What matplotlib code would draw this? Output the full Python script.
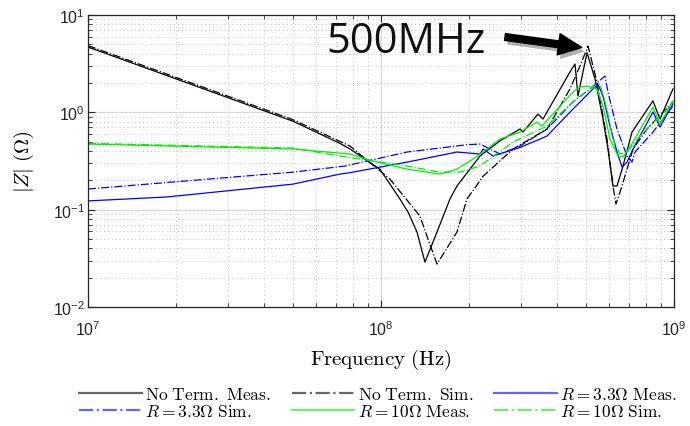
import matplotlib
matplotlib.use("Agg")
import matplotlib.pyplot as plt
import matplotlib.patheffects as pe
from matplotlib.ticker import LogLocator
import numpy as np

plt.rcParams['font.family'] = ['Liberation Sans', 'DejaVu Sans']
plt.rcParams['mathtext.fontset'] = 'cm'

# frequency in MHz, |Z| in Ohm
f_nt_meas = [10, 50.1, 72.4, 78.4, 99.2, 116, 123.7, 132.7, 141.3, 155.3, 172, 181.7, 217.7,
             254.8, 298.2, 305.2, 343.4, 357.2, 441.6, 459.4, 470.2, 504.9, 537.6, 572.4,
             595.3, 619.1, 639, 669.9, 719, 847.8, 895.8, 992]
z_nt_meas = [4.69, 0.81, 0.48, 0.42, 0.26, 0.129, 0.0945, 0.0589, 0.0289, 0.0589, 0.129, 0.175, 0.356,
             0.51, 0.674, 0.627, 0.96, 0.853, 2.6, 3.14, 1.47, 4.1, 2.2, 0.853,
             0.42, 0.175, 0.175, 0.281, 0.627, 1.31, 0.853, 1.74]

f_nt_sim = [10, 50.1, 78.4, 107.3, 135.8, 144.7, 155.3, 181.7, 196.6, 210, 222.9, 282.1, 368.7,
            441.6, 477.7, 508.8, 546, 590.6, 619.1, 633.9, 664.6, 724.6, 808.8, 992]
z_nt_sim = [4.85, 0.84, 0.45, 0.206, 0.086, 0.05, 0.0276, 0.0589, 0.129, 0.17, 0.22, 0.42, 0.674,
            1.74, 2.99, 4.8, 2.05, 0.531, 0.175, 0.114, 0.175, 0.42, 0.674, 1.28]

f_r33_meas = [10, 18.6, 50.1, 72.4, 78.4, 122.7, 181.7, 217.7, 222.9, 241.2, 298.2, 348.9, 368.7,
              452.1, 529, 550.4, 572.4, 604.7, 639, 664.6, 691.3, 724.6, 847.8, 895.8, 992]
z_r33_meas = [0.123, 0.135, 0.183, 0.232, 0.24, 0.308, 0.391, 0.373, 0.42, 0.356, 0.436, 0.531, 0.571,
              1.08, 1.74, 1.95, 1.47, 0.723, 0.391, 0.274, 0.308, 0.42, 1.01, 0.706, 1.22]

f_r33_sim = [10, 50.1, 75, 122.7, 196.6, 217.7, 254.8, 298.2, 368.7, 452.1, 516.8, 581.4, 595.3,
             639, 691.3, 719, 736.1, 847.8, 992]
z_r33_sim = [0.163, 0.243, 0.28, 0.391, 0.465, 0.472, 0.373, 0.45, 0.674, 1.28, 1.74, 2.36, 1.62,
             0.674, 0.356, 0.308, 0.391, 0.627, 1.16]

f_r10_meas = [10, 50.1, 78.4, 93.9, 122.7, 159, 181.7, 206, 230, 254.8, 298.2, 340.8, 354.4,
              452.1, 477.7, 504.9, 546, 572.4, 604.7, 644, 669.9, 724.6, 847.8, 895.8, 992]
z_r10_meas = [0.472, 0.42, 0.373, 0.316, 0.261, 0.232, 0.261, 0.331, 0.42, 0.531, 0.627, 0.795, 0.723,
              1.62, 1.82, 1.86, 1.74, 1.16, 0.531, 0.356, 0.347, 0.495, 1.13, 0.76, 1.31]

f_r10_sim = [10, 50.1, 72.4, 122.7, 159, 186, 217.7, 282.1, 368.7, 452.1, 529, 559, 590.6,
             619.1, 654.2, 691.3, 765.6, 874.9, 992]
z_r10_sim = [0.48, 0.43, 0.356, 0.281, 0.243, 0.243, 0.281, 0.495, 0.723, 1.28, 1.86, 1.95, 1.08,
             0.531, 0.373, 0.391, 0.571, 0.853, 1.22]

series = [
    (f_nt_meas, z_nt_meas, 'k', '-', r'$\mathrm{No\ Term.\ Meas.}$'),
    (f_nt_sim, z_nt_sim, 'k', '-.', r'$\mathrm{No\ Term.\ Sim.}$'),
    (f_r33_meas, z_r33_meas, '#0000ff', '-', r'$R=3.3\Omega\ \mathrm{Meas.}$'),
    (f_r33_sim, z_r33_sim, '#0000ff', '-.', r'$R=3.3\Omega\ \mathrm{Sim.}$'),
    (f_r10_meas, z_r10_meas, '#00ee00', '-', r'$R=10\Omega\ \mathrm{Meas.}$'),
    (f_r10_sim, z_r10_sim, '#00ee00', '-.', r'$R=10\Omega\ \mathrm{Sim.}$'),
]

fig = plt.figure(figsize=(6.9, 4.27), dpi=100)
ax = fig.add_axes([0.1275, 0.2787, 0.8493, 0.6838])

lines = []
for f, z, c, ls, lab in series:
    l, = ax.plot(np.array(f) * 1e6, z, color=c, linestyle=ls, lw=0.9, label=lab)
    lines.append(l)

ax.set_xscale('log')
ax.set_yscale('log')
ax.set_xlim(1e7, 1e9)
ax.set_ylim(1e-2, 1e1)
ax.xaxis.set_major_locator(LogLocator(base=10, numticks=5))
ax.xaxis.set_minor_locator(LogLocator(base=10, subs=np.arange(2, 10), numticks=20))
ax.yaxis.set_minor_locator(LogLocator(base=10, subs=np.arange(2, 10), numticks=20))

ax.grid(True, which='major', color='#d8d8d8', lw=0.8, ls='-')
ax.grid(True, which='minor', color='#bdbdbd', lw=0.7, ls=(0, (1, 3)))
ax.set_axisbelow(True)

ax.tick_params(which='both', direction='in', top=True, right=True, colors='#262626',
               labelsize=11.5, labelcolor='#262626')
ax.tick_params(which='major', length=5, width=0.8)
ax.tick_params(which='minor', length=3, width=0.6)
ax.tick_params(axis='x', pad=9)
ax.tick_params(axis='y', pad=2)
for s in ax.spines.values():
    s.set_color('#262626')
    s.set_linewidth(0.9)

ax.set_xlabel(r'$\mathrm{Frequency\ (Hz)}$', fontsize=15, labelpad=6)
ax.set_ylabel(r'$|Z|\ (\Omega)$', fontsize=15, labelpad=12)

# legend filled row by row (matplotlib fills by column)
order = [0, 3, 1, 4, 2, 5]
leg = fig.legend([lines[i] for i in order], [series[i][4] for i in order],
                 loc='center', bbox_to_anchor=(0.548, 0.055), ncol=3, frameon=False,
                 fontsize=12.5, handlelength=3.6, handletextpad=0.2, columnspacing=1.2,
                 labelspacing=0.1)
for h in leg.get_lines():
    h.set_alpha(0.6)
    h.set_linewidth(1.6)

fig.text(406 / 690, 1 - 42 / 427, '500MHz', fontsize=30, family='Open Sans',
         ha='center', va='center', color='#111111')
ax.annotate('', xy=(4.95e8, 4.6), xycoords='data',
            xytext=(505 / 690, 1 - 38 / 427), textcoords='figure fraction',
            arrowprops=dict(arrowstyle='simple,head_length=1.2,head_width=1.1,tail_width=0.35',
                            color='black', mutation_scale=14, shrinkA=0, shrinkB=2,
                            path_effects=[pe.withSimplePatchShadow(offset=(2, -3), alpha=0.3)]))

fig.savefig('out.png', dpi=100)
